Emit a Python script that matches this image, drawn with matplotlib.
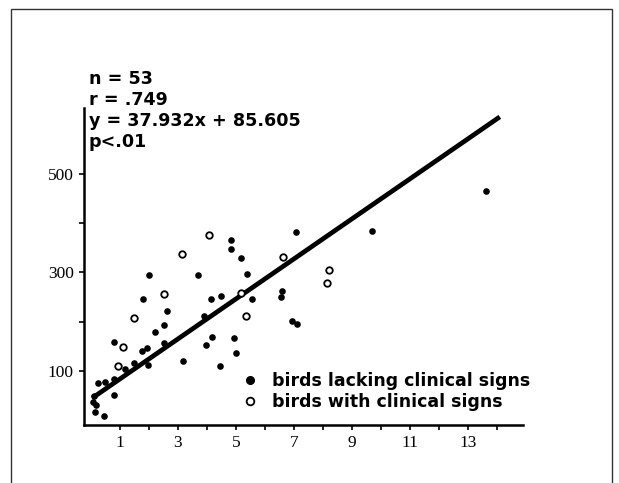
import numpy as np
import matplotlib
matplotlib.use("Agg")
import matplotlib.pyplot as plt
from matplotlib.lines import Line2D
from matplotlib.patches import Rectangle

# birds lacking clinical signs (filled dots)
lack_x = [0.06, 0.12, 0.17, 0.15, 0.44, 0.23, 0.48, 0.78, 0.80, 0.80,
          1.16, 1.49, 1.76, 1.92, 1.98, 2.22, 2.53, 2.61, 2.53, 1.78,
          2.00, 3.16, 3.70, 3.91, 3.98, 4.13, 4.16, 4.44, 4.47, 4.84,
          4.82, 4.93, 4.99, 5.16, 5.38, 5.54, 6.56, 6.60, 6.94, 7.12,
          7.06, 9.70, 13.64]
lack_y = [37, 48, 31, 17, 8, 75, 78, 84, 50, 158,
          103, 116, 141, 146, 112, 179, 194, 221, 156, 245,
          294, 120, 294, 211, 153, 246, 169, 109, 253, 365,
          348, 167, 137, 330, 297, 245, 250, 263, 202, 196,
          383, 384, 465]

# birds with clinical signs (open circles)
sign_x = [0.92, 1.09, 1.47, 2.52, 3.13, 4.07, 5.19, 5.36, 6.63, 8.21, 8.15]
sign_y = [109, 148, 208, 257, 338, 375, 259, 211, 332, 305, 278]

# regression line as drawn in the figure
line_x = [0.05, 14.1]
line_y = [45, 616]

stats = ["n = 53", "r = .749", "y = 37.932x + 85.605", "p<.01"]

x_ticks = list(range(1, 15))
x_labels = [str(v) if v % 2 == 1 else "" for v in x_ticks]
y_ticks = [100, 200, 300, 400, 500]
y_labels = ["100", "", "300", "", "500"]

W, H = 619, 483
fig = plt.figure(figsize=(W / 100, H / 100), dpi=100)
ax = fig.add_axes([84.3 / W, 1 - 425 / H, (523 - 84.3) / W, (425 - 108) / H])

ax.plot(line_x, line_y, color="black", lw=3.4, solid_capstyle="butt", zorder=2)
ax.scatter(lack_x, lack_y, s=14, color="black", zorder=3)
ax.scatter(sign_x, sign_y, s=22, facecolor="white", edgecolor="black",
           linewidth=1.3, zorder=3)

ax.set_xlim(-0.23, 14.9)
ax.set_ylim(-10, 634)

for s in ["top", "right"]:
    ax.spines[s].set_visible(False)
for s in ["left", "bottom"]:
    ax.spines[s].set_linewidth(1.8)

ax.set_xticks(x_ticks)
ax.set_xticklabels(x_labels)
ax.set_yticks(y_ticks)
ax.set_yticklabels(y_labels)
ax.tick_params(direction="out", length=3.5, width=1.2, labelsize=12.5, pad=4)
for lbl in ax.get_xticklabels() + ax.get_yticklabels():
    lbl.set_fontfamily("Liberation Serif")

# stats block
for i, txt in enumerate(stats):
    fig.text(89 / W, 1 - (84 + 21 * i) / H, txt, fontsize=12.6,
             fontfamily="DejaVu Sans", fontweight="bold", va="baseline")

handles = [
    Line2D([], [], marker="o", ls="none", color="black", markersize=5.5),
    Line2D([], [], marker="o", ls="none", markerfacecolor="white",
           markeredgecolor="black", markeredgewidth=1.3, markersize=5.5),
]
leg = ax.legend(handles, ["birds lacking clinical signs", "birds with clinical signs"],
                loc="upper left", bbox_to_anchor=(241.5 / W, 1 - 372 / H),
                bbox_transform=fig.transFigure, frameon=False, borderpad=0,
                borderaxespad=0, handlelength=1.0, handletextpad=0.75,
                labelspacing=0.2,
                prop={"family": "DejaVu Sans", "weight": "bold", "size": 12.5})

# outer frame of the scanned figure
fig.patches.append(Rectangle((11 / W, -0.05), (612 - 11) / W, 1.05 - 9 / H,
                             transform=fig.transFigure, fill=False,
                             edgecolor="#333333", lw=1.0))

fig.savefig("out.png", dpi=100)
